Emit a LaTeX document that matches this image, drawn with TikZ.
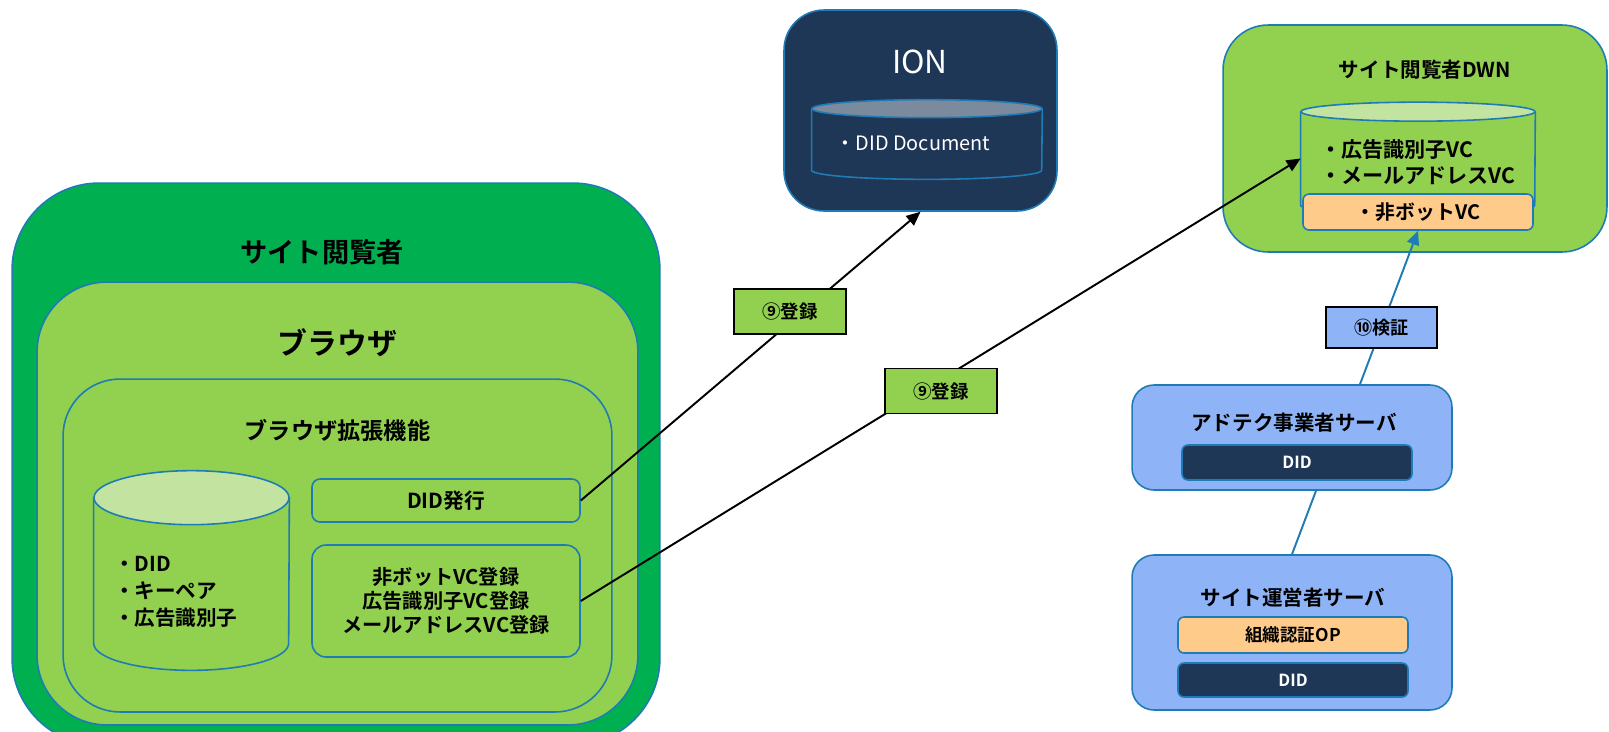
\documentclass[tikz,border=0pt]{standalone}
\usepackage{fontspec}
\setmainfont{Noto Sans CJK JP}[BoldFont={Noto Sans CJK JP Bold}]
\usepackage{tikz}
\usetikzlibrary{arrows.meta,positioning}

\definecolor{viewergreen}{HTML}{00B050}
\definecolor{lightgreen}{HTML}{92D050}
\definecolor{palegreen}{HTML}{C3E3A0}
\definecolor{navy}{HTML}{1F3756}
\definecolor{navytop}{HTML}{7B8A9C}
\definecolor{peach}{HTML}{FFCB8B}
\definecolor{skyblue}{HTML}{8EB4F7}
\definecolor{edgeblue}{HTML}{1F7BB6}

\begin{document}
\begin{tikzpicture}[
    x=0.02cm, y=0.02cm,
    font=\bfseries\fontsize{11.5}{13.5}\selectfont,
    box/.style={rectangle, draw=edgeblue, line width=0.9pt, align=center, inner sep=0pt},
    boxtitle/.style={font=\bfseries\fontsize{11.7}{14}\selectfont},
    bigtitle/.style={font=\bfseries\fontsize{15.5}{18}\selectfont},
    cylbody/.style={draw=edgeblue, line width=0.9pt},
    steplabel/.style={rectangle, draw=black, line width=1.1pt, minimum width=2.24cm, minimum height=0.9cm, font=\bfseries\fontsize{10.5}{12}\selectfont},
    arrow/.style={-{Triangle[length=8pt, width=7pt]}, line width=1.1pt},
    link/.style={draw=edgeblue, line width=1.1pt},
]
\useasboundingbox (0,0) rectangle (1609,-731);

% Site viewer
\node[box, fill=viewergreen, rounded corners=1.74cm, minimum width=12.96cm, minimum height=11.24cm] (viewer) at (336,-464) {};
\node[bigtitle] (viewertitle) at (322,-252) {サイト閲覧者};
\node[box, fill=lightgreen, rounded corners=1.4cm, minimum width=12.02cm, minimum height=8.86cm] (browser) at (337.5,-503.5) {};
\node[font=\bfseries\fontsize{17}{20}\selectfont] (browsertitle) at (337.5,-343) {ブラウザ};
\node[box, fill=lightgreen, rounded corners=1.14cm, minimum width=10.98cm, minimum height=6.66cm] (ext) at (337.5,-545.5) {};
\node[font=\bfseries\fontsize{13.2}{15}\selectfont] (exttitle) at (337.5,-430) {ブラウザ拡張機能};

% Local store
\node[inner sep=0pt, minimum width=3.9cm, minimum height=2.9cm] (keystore) at (191.5,-570.5) {};
\filldraw[cylbody, fill=lightgreen] (keystore.north west) -- (keystore.south west) arc[start angle=180, end angle=360, x radius=97.5, y radius=27] -- (keystore.north east);
\filldraw[cylbody, fill=palegreen] (keystore.north) ellipse[x radius=97.5, y radius=27];
\node[anchor=west, align=left, font=\bfseries\fontsize{11.7}{15.5}\selectfont] (keystoretext) at (108,-592) {・DID\\・キーペア\\・広告識別子};

% Extension functions
\node[box, rounded corners=0.16cm, minimum width=5.36cm, minimum height=0.86cm, font=\bfseries\fontsize{11.8}{14}\selectfont] (didissue) at (446,-500.5) {DID発行};
\node[box, rounded corners=0.28cm, minimum width=5.36cm, minimum height=2.24cm] (vcreg) at (446,-601) {非ボットVC登録\\広告識別子VC登録\\メールアドレスVC登録};

% ION
\node[box, fill=navy, rounded corners=0.8cm, minimum width=5.46cm, minimum height=4.02cm] (ion) at (920.5,-110.5) {};
\node[font=\fontsize{18}{20}\selectfont, text=white] (iontitle) at (920,-62) {ION};
\node[inner sep=0pt, minimum width=4.6cm, minimum height=1.22cm] (iondb) at (927,-139.5) {};
\filldraw[cylbody, fill=navy] (iondb.north west) -- (iondb.south west) arc[start angle=180, end angle=360, x radius=115, y radius=9] -- (iondb.north east);
\filldraw[cylbody, fill=navytop] (iondb.north) ellipse[x radius=115, y radius=9];
\node[text=white, font=\fontsize{11.3}{13}\selectfont] (iondbtext) at (913,-143) {・DID Document};

% Viewer DWN
\node[box, fill=lightgreen, rounded corners=0.9cm, minimum width=7.68cm, minimum height=4.54cm] (dwn) at (1415,-138.5) {};
\node[boxtitle] (dwntitle) at (1425,-70) {サイト閲覧者DWN};
\node[inner sep=0pt, minimum width=4.68cm, minimum height=1.86cm] (dwnstore) at (1418,-158.5) {};
\filldraw[cylbody, fill=lightgreen] (dwnstore.north west) -- (dwnstore.south west) arc[start angle=180, end angle=360, x radius=117, y radius=9.5] -- (dwnstore.north east);
\filldraw[cylbody, fill=palegreen] (dwnstore.north) ellipse[x radius=117, y radius=9.5];
\node[anchor=west, align=left, font=\bfseries\fontsize{12}{14.5}\selectfont] (dwnstoretext) at (1314,-162) {・広告識別子VC\\・メールアドレスVC};
\node[box, fill=peach, rounded corners=0.12cm, minimum width=4.6cm, minimum height=0.72cm, font=\bfseries\fontsize{11.3}{13}\selectfont] (nonbot) at (1418,-212) {・非ボットVC};

% Servers
\node[box, fill=skyblue, rounded corners=0.44cm, minimum width=6.4cm, minimum height=2.1cm] (adtech) at (1292,-437.5) {};
\node[boxtitle] (adtechtitle) at (1294,-423) {アドテク事業者サーバ};
\node[box, fill=navy, text=white, rounded corners=0.12cm, minimum width=4.6cm, minimum height=0.7cm, font=\bfseries\fontsize{9.5}{11}\selectfont] (adtechdid) at (1297,-462.5) {DID};
\node[box, fill=skyblue, rounded corners=0.44cm, minimum width=6.4cm, minimum height=3.1cm] (operator) at (1292,-632.5) {};
\node[boxtitle] (operatortitle) at (1293,-598) {サイト運営者サーバ};
\node[box, fill=peach, rounded corners=0.12cm, minimum width=4.6cm, minimum height=0.72cm, font=\bfseries\fontsize{10}{11}\selectfont] (operatorop) at (1293,-635) {組織認証OP};
\node[box, fill=navy, text=white, rounded corners=0.12cm, minimum width=4.6cm, minimum height=0.68cm, font=\bfseries\fontsize{9.5}{11}\selectfont] (operatordid) at (1293,-680) {DID};

% Connectors
\draw[arrow] (didissue.east) -- (ion.south);
\draw[arrow] (vcreg.east) -- (dwnstore.west);
\draw[arrow, edgeblue] ([xshift=1.36cm]adtech.north) -- (nonbot.south);
\draw[link] ([xshift=0.48cm]adtech.south) -- (operator.north);

% Step labels
\node[steplabel, fill=lightgreen] (issuestep) at (790,-311.5) {⑨登録};
\node[steplabel, fill=lightgreen] (registerstep) at (941,-391) {⑨登録};
\node[steplabel, fill=skyblue, minimum width=2.22cm, minimum height=0.82cm, font=\bfseries\fontsize{10.3}{11}\selectfont] (verifystep) at (1381.5,-327.5) {⑩検証};

\end{tikzpicture}
\end{document}
